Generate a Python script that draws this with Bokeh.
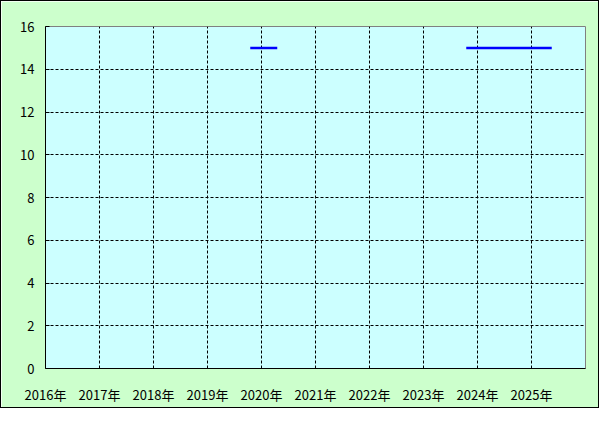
import math
from bokeh.plotting import figure
from bokeh.models import Range1d, FixedTicker, ColumnDataSource
from bokeh.embed import file_html
from bokeh.resources import INLINE

# ---- data ----
nan = float("nan")
months = ["2019-10", "2019-11", "2019-12", "2020-01", "2020-02", "2020-03", "2020-04",
          "2020-05",
          "2023-10", "2023-11", "2023-12", "2024-01", "2024-02", "2024-03", "2024-04",
          "2024-05", "2024-06", "2024-07", "2024-08", "2024-09", "2024-10", "2024-11",
          "2024-12", "2025-01", "2025-02", "2025-03", "2025-04", "2025-05"]
values = [15, 15, 15, 15, 15, 15, 15,
          nan,
          15, 15, 15, 15, 15, 15, 15,
          15, 15, 15, 15, 15, 15, 15,
          15, 15, 15, 15, 15, 15]
tick_years = [2016, 2017, 2018, 2019, 2020, 2021, 2022, 2023, 2024, 2025]
tick_labels = ["2016年", "2017年", "2018年", "2019年", "2020年",
               "2021年", "2022年", "2023年", "2024年", "2025年"]
y_ticks = [0, 2, 4, 6, 8, 10, 12, 14, 16]

def month_pos(s):
    y, m = s.split("-")
    return int(y) + (int(m) - 0.5) / 12.0

xs = [month_pos(s) for s in months]
src = ColumnDataSource(dict(x=xs, y=values))

FONT = "Noto Sans CJK JP"

p = figure(width=599, height=408, output_backend="svg", toolbar_location=None,
           x_range=Range1d(2016, 2026), y_range=Range1d(0, 16),
           min_border_left=44, min_border_right=15, min_border_top=25, min_border_bottom=41)
p.background_fill_color = "#CCFFFF"
p.border_fill_color = "#CCFFCC"
p.outline_line_color = "#808080"
p.outline_line_width = 1
p.styles = {"border": "1px solid black", "box-sizing": "border-box"}

p.line("x", "y", source=src, line_color="#0000FF", line_width=2.5)

p.xaxis.ticker = FixedTicker(ticks=tick_years)
p.xaxis.major_label_overrides = {y: l for y, l in zip(tick_years, tick_labels)}
p.yaxis.ticker = FixedTicker(ticks=y_ticks)

for ax in (p.xaxis[0], p.yaxis[0]):
    ax.axis_line_color = "black"
    ax.axis_line_width = 1
    ax.major_label_text_font = FONT
    ax.major_label_text_font_size = "13px"
    ax.major_label_text_color = "black"
    ax.minor_tick_line_color = None

p.xaxis.major_tick_line_color = None
p.yaxis.major_tick_in = 4
p.yaxis.major_tick_out = 0
p.yaxis.major_tick_line_color = "black"
p.yaxis.major_label_standoff = 11
p.xaxis.major_label_standoff = 10

for g in (p.xgrid[0], p.ygrid[0]):
    g.grid_line_color = "black"
    g.grid_line_dash = "3 2"
    g.grid_line_width = 1

open("out.html", "w").write(file_html(p, INLINE))
